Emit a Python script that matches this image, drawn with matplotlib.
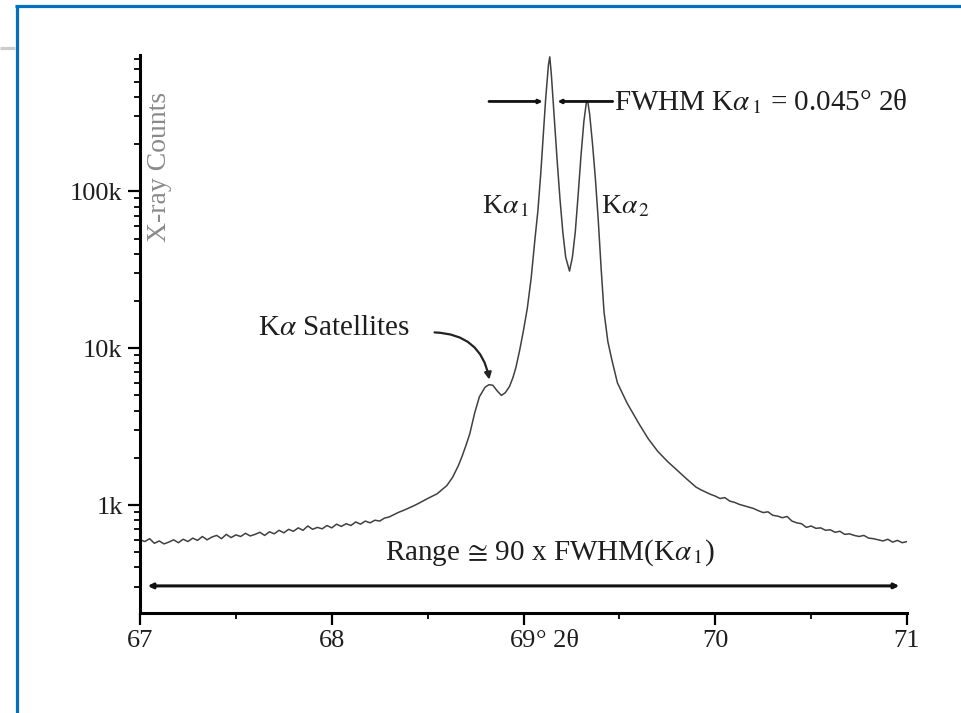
import matplotlib
matplotlib.use('Agg')
import matplotlib.pyplot as plt
from matplotlib.lines import Line2D
from matplotlib.ticker import FixedLocator, FixedFormatter, LogLocator, NullFormatter, MultipleLocator

plt.rcParams['font.family'] = ['Liberation Serif', 'DejaVu Serif']
plt.rcParams['mathtext.fontset'] = 'stix'

# ---- data ----
two_theta = [
    67.000, 67.025, 67.050, 67.075, 67.100, 67.125, 67.150, 67.175, 67.200, 67.225,
    67.250, 67.275, 67.300, 67.325, 67.350, 67.375, 67.400, 67.425, 67.450, 67.475,
    67.500, 67.525, 67.550, 67.575, 67.600, 67.625, 67.650, 67.675, 67.700, 67.725,
    67.750, 67.775, 67.800, 67.825, 67.850, 67.875, 67.900, 67.925, 67.950, 67.975,
    68.000, 68.025, 68.050, 68.075, 68.100, 68.125, 68.150, 68.175, 68.200, 68.225,
    68.250, 68.275, 68.300, 68.325, 68.350, 68.375, 68.400, 68.425, 68.450, 68.475,
    68.500, 68.550, 68.600, 68.630, 68.660, 68.680, 68.700, 68.720, 68.745, 68.770,
    68.800, 68.820, 68.840, 68.865, 68.885, 68.905, 68.927, 68.945, 68.960, 68.980,
    69.000, 69.020, 69.040, 69.060, 69.075, 69.090, 69.100, 69.115, 69.130, 69.137,
    69.145, 69.160, 69.175, 69.190, 69.205, 69.220, 69.240, 69.255, 69.270, 69.285,
    69.300, 69.315, 69.328, 69.335, 69.345, 69.360, 69.375, 69.390, 69.405, 69.420,
    69.440, 69.460, 69.490, 69.540, 69.600, 69.650, 69.700, 69.750, 69.800, 69.850,
    69.900, 69.925, 69.950, 69.975, 70.000, 70.025, 70.050, 70.075, 70.100, 70.125,
    70.150, 70.175, 70.200, 70.225, 70.250, 70.275, 70.300, 70.325, 70.350, 70.375,
    70.400, 70.425, 70.450, 70.475, 70.500, 70.525, 70.550, 70.575, 70.600, 70.625,
    70.650, 70.675, 70.700, 70.725, 70.750, 70.775, 70.800, 70.825, 70.850, 70.875,
    70.900, 70.925, 70.950, 70.975, 71.000,
]
counts = [
    600, 585, 610, 570, 590, 565, 580, 600, 575, 605,
    585, 615, 595, 630, 600, 625, 640, 610, 650, 620,
    645, 630, 660, 635, 650, 670, 640, 675, 655, 690,
    665, 700, 680, 715, 690, 735, 700, 720, 705, 740,
    715, 755, 730, 760, 740, 780, 755, 790, 770, 800,
    790, 825, 840, 870, 900, 925, 955, 985, 1020, 1060,
    1100, 1180, 1330, 1500, 1780, 2050, 2400, 2850, 3850, 4900,
    5650, 5850, 5800, 5300, 5000, 5200, 5700, 6500, 7500, 9700,
    13000, 18000, 28000, 50000, 75000, 130000, 200000, 380000, 640000, 720000,
    560000, 300000, 160000, 90000, 55000, 38000, 31000, 38000, 55000, 95000,
    170000, 280000, 370000, 375000, 310000, 200000, 120000, 65000, 32000, 17000,
    11000, 8500, 6000, 4470, 3330, 2650, 2200, 1900, 1670, 1470,
    1300, 1250, 1210, 1170, 1140, 1100, 1115, 1060, 1040, 1010,
    990, 970, 950, 920, 895, 905, 860, 850, 830, 845,
    790, 770, 760, 720, 735, 710, 715, 690, 695, 670,
    680, 650, 655, 640, 630, 640, 615, 610, 600, 590,
    605, 580, 595, 575, 585,
]

x_ticks = [67, 68, 69, 70, 71]
x_tick_labels = ['67', '68', '69', '70', '71']
y_ticks = [1e3, 1e4, 1e5]
y_tick_labels = ['1k', '10k', '100k']

fwhm_level = 374000
range_level = 305

TXT = '#1e1e1e'

# ---- figure ----
fig = plt.figure(figsize=(9.61, 7.13), dpi=100)
ax = fig.add_axes([0.1457, 0.1403, 0.7981, 0.7826])

ax.plot(two_theta, counts, color='#404040', lw=1.1)
ax.set_yscale('log')
ax.set_xlim(67, 71)
ax.set_ylim(205, 740000)

for s in ['top', 'right']:
    ax.spines[s].set_visible(False)
for s in ['left', 'bottom']:
    ax.spines[s].set_linewidth(2.2)
    ax.spines[s].set_color('#000000')

ax.xaxis.set_major_locator(FixedLocator(x_ticks))
ax.xaxis.set_major_formatter(FixedFormatter(x_tick_labels))
ax.xaxis.set_minor_locator(MultipleLocator(0.5))
ax.yaxis.set_major_locator(FixedLocator(y_ticks))
ax.yaxis.set_major_formatter(FixedFormatter(y_tick_labels))
ax.yaxis.set_minor_locator(LogLocator(base=10, subs=range(2, 10)))
ax.yaxis.set_minor_formatter(NullFormatter())

ax.tick_params(which='major', direction='out', length=8.5, width=1.6,
               labelsize=19, pad=4, labelcolor=TXT)
ax.tick_params(which='minor', direction='out', length=4.5, width=1.3)

# the "° 2θ" that follows the 69 tick label
ax.annotate('° 2θ', xy=(69, 0), xycoords=('data', 'axes fraction'),
            xytext=(9, -12.5), textcoords='offset points',
            ha='left', va='top', fontsize=19, color=TXT)

# y label inside the axes
ax.text(0.026, 0.80, 'X-ray Counts', transform=ax.transAxes, rotation=90,
        ha='center', va='center', fontsize=20, color='#8a8a8a')

arrow_kw = dict(arrowstyle='-|>', lw=2.0, color='#111111', mutation_scale=5,
                shrinkA=0, shrinkB=0)
# FWHM markers
ax.annotate('', xy=(69.100, fwhm_level), xytext=(68.82, fwhm_level), arrowprops=arrow_kw)
ax.annotate('', xy=(69.177, fwhm_level), xytext=(69.465, fwhm_level), arrowprops=arrow_kw)
ax.text(69.474, fwhm_level, r'FWHM K$\alpha_{\,1}$ = 0.045° 2θ', ha='left', va='center',
        fontsize=21, color=TXT)

ax.text(68.786, 80000, r'K$\alpha_{\,1}$', ha='left', va='center', fontsize=20, color=TXT)
ax.text(69.406, 80000, r'K$\alpha_{\,2}$', ha='left', va='center', fontsize=20, color=TXT)

# satellites
ax.text(67.615, 13400, r'K$\alpha$ Satellites', ha='left', va='center', fontsize=21,
        color=TXT)
ax.annotate('', xy=(68.822, 6300), xytext=(68.536, 12600),
            arrowprops=dict(arrowstyle='-|>', lw=1.6, color='#222222', mutation_scale=10,
                            shrinkA=0, shrinkB=0, connectionstyle='arc3,rad=-0.4'))

# range
ax.annotate('', xy=(70.96, range_level), xytext=(67.04, range_level),
            arrowprops=dict(arrowstyle='<|-|>', lw=2.2, color='#111111', mutation_scale=7,
                            shrinkA=0, shrinkB=0))
ax.text(69.14, 494, r'Range$\,\cong\,$90 x FWHM(K$\alpha_{\,1}$)', ha='center', va='center',
        fontsize=21, color=TXT)

# page frame
fig.add_artist(Line2D([15 / 961, 1.0], [1 - 6 / 713, 1 - 6 / 713], transform=fig.transFigure,
                      color='#0070C0', lw=2.3, solid_capstyle='butt'))
fig.add_artist(Line2D([16.5 / 961, 16.5 / 961], [0.0, 1 - 4.5 / 713], transform=fig.transFigure,
                      color='#0070C0', lw=2.3, solid_capstyle='butt'))
fig.add_artist(Line2D([0.0, 15 / 961], [1 - 48 / 713, 1 - 48 / 713], transform=fig.transFigure,
                      color='#cccccc', lw=2.3, solid_capstyle='butt'))

fig.savefig('out.png', dpi=100, facecolor='white')
